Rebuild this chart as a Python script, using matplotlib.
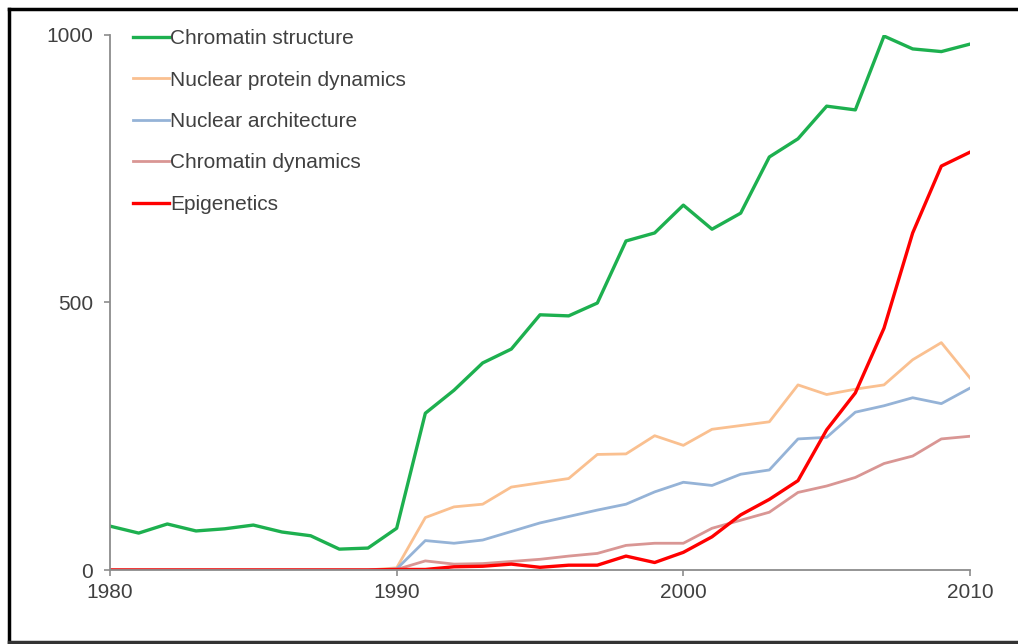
import matplotlib
matplotlib.use("Agg")
import matplotlib.pyplot as plt
from matplotlib.lines import Line2D

plt.rcParams['font.family'] = ['Liberation Sans', 'DejaVu Sans']

# Publication counts per year
years = list(range(1980, 2011))

chromatin_structure = [82, 69, 86, 73, 77, 84, 71, 64, 39, 41, 78,
                       293, 336, 387, 413, 477, 475, 499, 615, 630, 682,
                       637, 667, 772, 806, 867, 860, 998, 974, 969, 983]
nuclear_protein_dyn = [0, 0, 0, 0, 0, 0, 0, 0, 0, 0, 4,
                       98, 118, 123, 155, 163, 171, 216, 217, 251, 233,
                       263, 270, 277, 346, 328, 338, 346, 393, 425, 359]
nuclear_architecture = [0, 0, 0, 0, 0, 0, 0, 0, 0, 0, 2,
                        55, 50, 56, 72, 88, 100, 112, 123, 146, 164,
                        158, 179, 187, 245, 248, 295, 307, 322, 311, 340]
chromatin_dynamics = [0, 0, 0, 0, 0, 0, 0, 0, 0, 0, 1,
                      17, 11, 12, 16, 20, 26, 31, 46, 50, 50,
                      78, 93, 108, 145, 157, 173, 199, 213, 245, 250]
epigenetics = [0, 0, 0, 0, 0, 0, 0, 0, 0, 0, 1,
               1, 6, 7, 11, 5, 9, 9, 26, 14, 33,
               62, 103, 132, 167, 262, 331, 452, 630, 755, 781]

labels = ["Chromatin structure", "Nuclear protein dynamics",
          "Nuclear architecture", "Chromatin dynamics", "Epigenetics"]
colors = ["#1db04f", "#fac090", "#95b3d7", "#d99694", "#ff0000"]
widths = [2.4, 2.0, 2.0, 2.0, 2.4]
series = [chromatin_structure, nuclear_protein_dyn, nuclear_architecture,
          chromatin_dynamics, epigenetics]

fig = plt.figure(figsize=(10.18, 6.44), dpi=100)
ax = fig.add_axes([110 / 1018, 1 - 570 / 644, 860 / 1018, 535 / 644])

for vals, lab, col, lw in zip(series, labels, colors, widths):
    ax.plot(years, vals, color=col, lw=lw, label=lab, solid_joinstyle='round')

ax.set_xlim(1980, 2010)
ax.set_ylim(0, 1000)
ax.set_xticks([1980, 1990, 2000, 2010])
ax.set_yticks([0, 500, 1000])

for side in ['top', 'right']:
    ax.spines[side].set_visible(False)
for side in ['left', 'bottom']:
    ax.spines[side].set_color('#8c8c8c')
    ax.spines[side].set_linewidth(1.3)
ax.tick_params(direction='out', length=4, width=1.2, color='#8c8c8c',
               labelsize=15, labelcolor='#404040')
ax.tick_params(axis='y', pad=8)
ax.tick_params(axis='x', pad=5)

ax.legend(loc='upper left', bbox_to_anchor=(133 / 1018, 1 - 29 / 644),
          bbox_transform=fig.transFigure, frameon=False, fontsize=15,
          handlelength=1.75, handletextpad=0.05, labelspacing=1.08,
          borderpad=0, borderaxespad=0, labelcolor='#404040')

# frame around the picture (open on the right)
fig.add_artist(Line2D([9 / 1018, 1.0], [1 - 9 / 644] * 2, transform=fig.transFigure, color='black', lw=2.5))
fig.add_artist(Line2D([9 / 1018] * 2, [1 - 9 / 644, 1 - 642 / 644], transform=fig.transFigure, color='black', lw=2.5))
fig.add_artist(Line2D([9 / 1018, 1.0], [1 - 642 / 644] * 2, transform=fig.transFigure, color='#333333', lw=2.5))

fig.savefig("out.png", dpi=100)
